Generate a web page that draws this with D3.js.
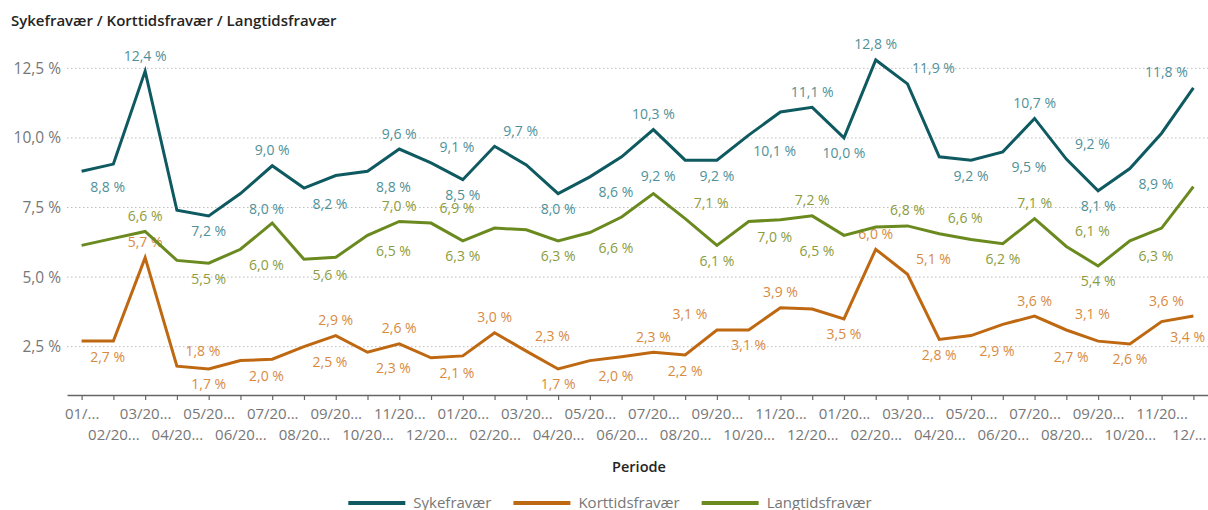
<!DOCTYPE html>
<html><head><meta charset="utf-8">
<script src="https://cdn.jsdelivr.net/npm/d3@7"></script>
<style>
body{margin:0;background:#fff;}
svg{display:block;font-family:"Segoe UI","Open Sans",sans-serif;}
</style></head><body>
<svg id="chart" width="1208" height="510"></svg>
<script>
// ---- data ----
const tickLabels = ["01/...","02/20...","03/20...","04/20...","05/20...","06/20...","07/20...","08/20...","09/20...","10/20...","11/20...","12/20...",
  "01/20...","02/20...","03/20...","04/20...","05/20...","06/20...","07/20...","08/20...","09/20...","10/20...","11/20...","12/20...",
  "01/20...","02/20...","03/20...","04/20...","05/20...","06/20...","07/20...","08/20...","09/20...","10/20...","11/20...","12/..."];
const sykefravaer = [8.8, 9.06, 12.4, 7.4, 7.2, 8.0, 9.0, 8.2, 8.65, 8.8, 9.6, 9.1, 8.5, 9.7, 9.03, 8.0, 8.6, 9.32, 10.3, 9.2, 9.2, 10.1, 10.93, 11.1, 10.0, 12.8, 11.94, 9.32, 9.2, 9.5, 10.7, 9.24, 8.1, 8.9, 10.17, 11.8];
const korttidsfravaer = [2.7, 2.7, 5.7, 1.8, 1.7, 2.0, 2.05, 2.5, 2.9, 2.3, 2.6, 2.1, 2.17, 3.0, 2.34, 1.7, 2.0, 2.14, 2.3, 2.2, 3.1, 3.1, 3.9, 3.85, 3.5, 6.0, 5.1, 2.76, 2.9, 3.3, 3.6, 3.1, 2.7, 2.6, 3.4, 3.6];
const langtidsfravaer = [6.14, 6.39, 6.64, 5.6, 5.5, 6.0, 6.94, 5.64, 5.71, 6.5, 7.0, 6.94, 6.3, 6.76, 6.7, 6.3, 6.6, 7.16, 8.0, 7.1, 6.14, 7.0, 7.06, 7.2, 6.5, 6.8, 6.84, 6.56, 6.35, 6.2, 7.1, 6.1, 5.4, 6.3, 6.76, 8.25];
const yTicks = [2.5, 5, 7.5, 10, 12.5];
const seriesNames = ["Sykefravær", "Korttidsfravær", "Langtidsfravær"];
const chartTitle = "Sykefravær / Korttidsfravær / Langtidsfravær";
const axisTitle = "Periode";

// ---- label placement (style): index -> position ----
const sykeLabels = {0:"br",2:"t",4:"b",5:"br",6:"t",7:"br",9:"br",10:"t",11:"tr",12:"b",13:"tr",15:"b",16:"br",18:"t",19:"bl",20:"b",21:"br",23:"t",24:"b",25:"t",26:"tr",28:"b",29:"br",30:"t",31:"tr",32:"b",33:"br",35:"tl"};
const kortLabels = {0:"br",2:"t",3:"tr",4:"b",5:"br",7:"br",8:"t",9:"br",10:"t",11:"br",13:"t",14:"tr",15:"b",16:"br",18:"t",19:"b",20:"tl",21:"b",22:"t",24:"b",25:"t",26:"tr",27:"b",28:"br",30:"t",31:"tr",32:"bl",33:"b",34:"br",35:"tl"};
const langLabels = {2:"t",4:"b",5:"br",7:"br",9:"br",10:"t",11:"tr",12:"b",15:"b",16:"br",19:"tr",20:"b",21:"br",23:"t",24:"bl",26:"t",27:"tr",29:"b",30:"t",31:"tr",32:"b",33:"br"};

const series = [
  {name: seriesNames[0], values: sykefravaer, color: "#0e5a60", labelColor: "#4f9198", labels: sykeLabels},
  {name: seriesNames[1], values: korttidsfravaer, color: "#bf6812", labelColor: "#d88a3f", labels: kortLabels},
  {name: seriesNames[2], values: langtidsfravaer, color: "#6a8a1f", labelColor: "#8b9c40", labels: langLabels}
];

const svg = d3.select("#chart");
const plotLeft = 67, plotRight = 1208, plotBottom = 395.4, plotTop = 40.5;
const x = d3.scalePoint().domain(d3.range(tickLabels.length)).range([plotLeft, plotRight]).padding(0.46);
const y = d3.scaleLinear().domain([0.75, 13.5]).range([plotBottom, plotTop]);
const fmt = v => d3.format(".1f")(v).replace(".", ",") + " %";

// title
svg.append("text").attr("x", 11).attr("y", 26).attr("font-size", 15).attr("font-weight", 600)
  .attr("fill", "#252423").text(chartTitle);

// gridlines
svg.append("g").selectAll("line").data(yTicks).join("line")
  .attr("x1", plotLeft).attr("x2", plotRight).attr("y1", d => y(d)).attr("y2", d => y(d))
  .attr("stroke", "#bdbdbd").attr("stroke-width", 1).attr("stroke-dasharray", "1.5,2.5");

// y axis
const yAxis = svg.append("g").attr("transform", "translate(61,0)")
  .call(d3.axisLeft(y).tickValues(yTicks).tickSize(0).tickPadding(0).tickFormat(fmt));
yAxis.select(".domain").remove();
yAxis.attr("font-family", null);
yAxis.selectAll("text").attr("font-size", 15.5).attr("fill", "#777");

// x axis
const xAxis = svg.append("g").attr("transform", "translate(0,395)")
  .call(d3.axisBottom(x).tickSize(5).tickSizeOuter(0).tickFormat(i => tickLabels[i]));
xAxis.attr("font-family", null);
xAxis.select(".domain").attr("stroke", "#666").attr("stroke-width", 1.5);
xAxis.selectAll(".tick line").attr("stroke", "#666").attr("stroke-width", 1.2);
xAxis.selectAll("text").attr("font-size", 15).attr("fill", "#777")
  .attr("y", (d, i) => i % 2 ? 34 : 13.5)
  .each(function(d) {
    // keep the tick text inside the chart's right edge
    const w = this.getComputedTextLength();
    const cx = x(d);
    const over = cx + w / 2 - (plotRight - 2);
    if (over > 0) d3.select(this).attr("x", -over);
  });

// axis title
svg.append("text").attr("x", 639).attr("y", 472).attr("text-anchor", "middle")
  .attr("font-size", 14.5).attr("font-weight", 600).attr("fill", "#252423").text(axisTitle);

// data labels (under lines)
const dxPos = {t:0, b:0, tr:26, br:26, tl:-27, bl:-27};
const isTop = p => p[0] === "t";
series.forEach(s => {
  const entries = Object.entries(s.labels).map(([i, p]) => ({i: +i, p}));
  svg.append("g").selectAll("text").data(entries).join("text")
    .attr("x", d => x(d.i) + dxPos[d.p])
    .attr("y", d => y(s.values[d.i]) + (isTop(d.p) ? -10.5 : 20.5))
    .attr("text-anchor", "middle").attr("font-size", 14).attr("fill", s.labelColor)
    .text(d => fmt(s.values[d.i]));
});

// lines
const lineGen = d3.line().x((d, i) => x(i)).y(d => y(d));
series.forEach(s => {
  svg.append("path").datum(s.values).attr("d", lineGen).attr("fill", "none")
    .attr("stroke", s.color).attr("stroke-width", 3).attr("stroke-linejoin", "miter");
});

// legend
const lg = svg.append("g");
let lx = 0;
series.forEach(s => {
  const g = lg.append("g").attr("transform", `translate(${lx},0)`);
  g.append("line").attr("x1", 0).attr("x2", 57).attr("y1", 503).attr("y2", 503)
    .attr("stroke", s.color).attr("stroke-width", 4);
  const t = g.append("text").attr("x", 65).attr("y", 507.5).attr("font-size", 15).attr("fill", "#777").text(s.name);
  lx += 65 + t.node().getComputedTextLength() + 22;
});
const total = lx - 22;
lg.attr("transform", `translate(${610 - total / 2},0)`);
</script>
</body></html>
